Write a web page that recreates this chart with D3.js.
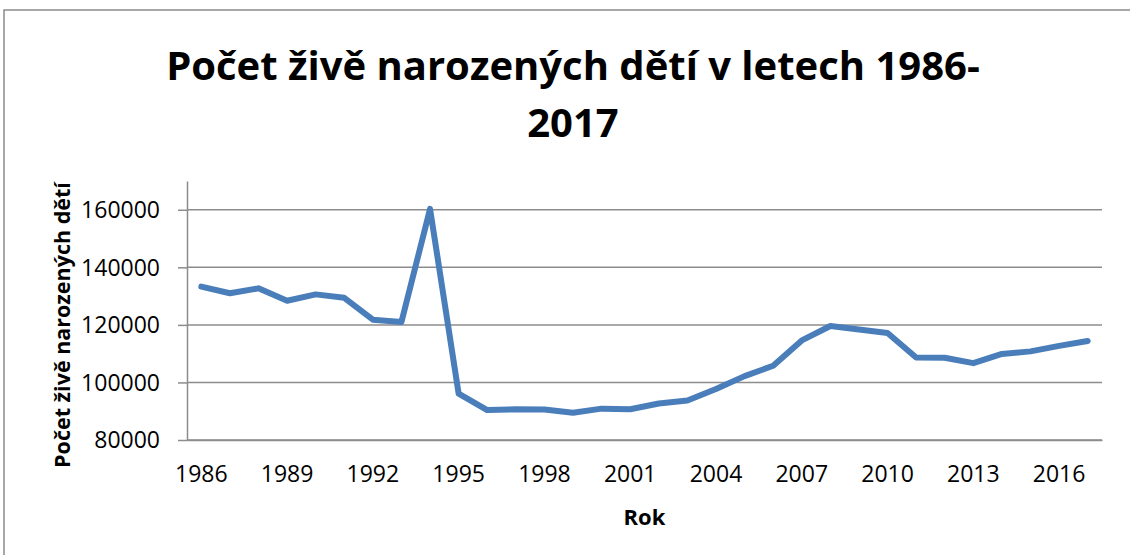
<!DOCTYPE html>
<html>
<head>
<meta charset="utf-8">
<script src="https://cdn.jsdelivr.net/npm/d3@7.9.0/dist/d3.min.js"></script>
<style>
  html, body { margin: 0; padding: 0; background: #fff; }
  svg { display: block; font-family: 'Open Sans', Lato, sans-serif; }
</style>
</head>
<body>
<svg id="chart" width="1130" height="555"></svg>
<script>
const years = d3.range(1986, 2018);
const births = [
  133300, 131000, 132700, 128400, 130600, 129400, 121800, 121000,
  160300, 96100, 90400, 90700, 90600, 89500, 90900, 90700,
  92700, 93700, 97700, 102200, 105800, 114600, 119600, 118400,
  117200, 108700, 108600, 106700, 109900, 110800, 112700, 114400
];
const yTicks = [80000, 100000, 120000, 140000, 160000];
const xLabels = years.filter((d, i) => i % 3 === 0);

const titleLines = ['Počet živě narozených dětí v letech 1986-', '2017'];
const xTitle = 'Rok';
const yTitle = 'Počet živě narozených dětí';

const svg = d3.select('#chart');
const plot = { left: 187, right: 1102, top: 181, bottom: 440 };

// outer chart frame (cut off at right and bottom like the source)
svg.append('rect')
  .attr('x', 4).attr('y', 10)
  .attr('width', 1200).attr('height', 700)
  .attr('fill', 'none').attr('stroke', '#8a8a8a').attr('stroke-width', 1.5);

const x = d3.scaleBand().domain(years).range([plot.left, plot.right]);
const y = d3.scaleLinear().domain([80000, 170000]).range([plot.bottom, plot.top]);
const cx = (d) => x(d) + x.bandwidth() / 2;

// gridlines
svg.append('g')
  .selectAll('line')
  .data(yTicks)
  .join('line')
  .attr('x1', plot.left).attr('x2', plot.right)
  .attr('y1', (d) => y(d)).attr('y2', (d) => y(d))
  .attr('stroke', '#8c8c8c').attr('stroke-width', 1.5);

// y axis
const yAxis = svg.append('g')
  .attr('transform', `translate(${plot.left},0)`)
  .call(d3.axisLeft(y).tickValues(yTicks).tickFormat(d3.format('d')).tickSize(9).tickSizeOuter(0).tickPadding(18))
  .attr('font-family', null);
yAxis.select('.domain').attr('stroke', '#8c8c8c').attr('stroke-width', 1.5);
yAxis.selectAll('.tick line').attr('stroke', '#8c8c8c').attr('stroke-width', 1.5);
yAxis.selectAll('text').attr('font-size', 23).attr('fill', '#000').attr('dy', '0.34em');

// x axis
const xAxis = svg.append('g')
  .attr('transform', `translate(0,${plot.bottom})`)
  .call(d3.axisBottom(x).tickValues(xLabels).tickSize(0).tickSizeOuter(0).tickPadding(25))
  .attr('font-family', null);
xAxis.select('.domain').attr('stroke', '#8c8c8c').attr('stroke-width', 1.5);
xAxis.selectAll('text').attr('font-size', 23).attr('fill', '#000').attr('dy', '0.72em');

// series line
const line = d3.line()
  .x((d, i) => cx(years[i]))
  .y((d) => y(d));

svg.append('path')
  .datum(births)
  .attr('d', line)
  .attr('fill', 'none')
  .attr('stroke', '#4a7ebb')
  .attr('stroke-width', 6)
  .attr('stroke-linejoin', 'round')
  .attr('stroke-linecap', 'round');

// titles
svg.append('g')
  .selectAll('text')
  .data(titleLines)
  .join('text')
  .attr('x', 573)
  .attr('y', (d, i) => 80 + i * 57)
  .attr('text-anchor', 'middle')
  .attr('font-size', 40)
  .attr('font-weight', 'bold')
  .text((d) => d);

svg.append('text')
  .attr('x', (plot.left + plot.right) / 2)
  .attr('y', 525)
  .attr('text-anchor', 'middle')
  .attr('font-size', 22)
  .attr('font-weight', 'bold')
  .text(xTitle);

svg.append('text')
  .attr('transform', 'translate(70,325) rotate(-90)')
  .attr('text-anchor', 'middle')
  .attr('font-size', 21.5)
  .attr('font-weight', 'bold')
  .text(yTitle);
</script>
</body>
</html>
